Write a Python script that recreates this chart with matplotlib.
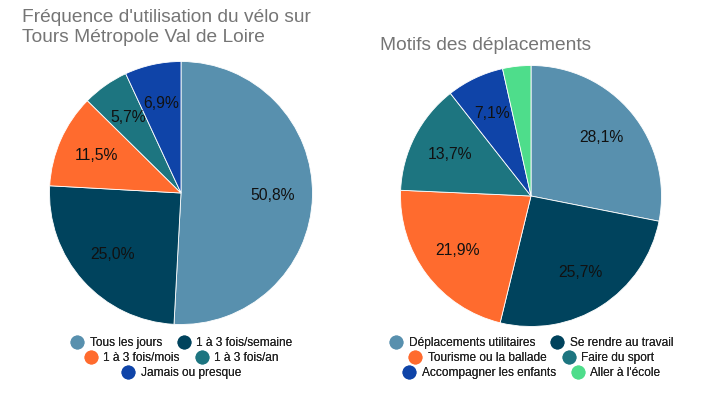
import matplotlib.pyplot as plt
from matplotlib.lines import Line2D

plt.rcParams['font.family'] = ['Liberation Sans', 'DejaVu Sans']

# left chart
freq_labels = ["Tous les jours", "1 à 3 fois/semaine", "1 à 3 fois/mois",
               "1 à 3 fois/an", "Jamais ou presque"]
freq_values = [50.8, 25.0, 11.5, 5.7, 6.9]

# right chart
motif_labels = ["Déplacements utilitaires", "Se rendre au travail",
                "Tourisme ou la ballade", "Faire du sport",
                "Accompagner les enfants", "Aller à l'école"]
motif_values = [28.1, 25.7, 21.9, 13.7, 7.1, 3.5]

colors = ["#5890ae", "#00435d", "#ff6b2e", "#1d7580", "#0f44a8", "#4edd8b"]

fig = plt.figure(figsize=(7.05, 3.96), dpi=100)

def make_fmt(values):
    total = sum(values)
    def fmt(p):
        v = p * total / 100
        if v < 5:
            return ""
        return f"{v:.1f}%".replace(".", ",")
    return fmt

def draw_pie(rect, values):
    ax = fig.add_axes(rect)
    wedges, texts, autotexts = ax.pie(
        values, colors=colors[:len(values)], startangle=90, counterclock=False,
        autopct=make_fmt(values), pctdistance=0.7,
        wedgeprops=dict(linewidth=0.6, edgecolor="white"),
        textprops=dict(fontsize=11.3, color="#111111"))
    ax.set_xlim(-1.0, 1.0)
    ax.set_ylim(-1.0, 1.0)
    ax.set_aspect("equal")
    return wedges

W, H = 705, 396

def rect_for(cx, cy, r):
    return [(cx - r) / W, 1 - (cy + r) / H, 2 * r / W, 2 * r / H]

draw_pie(rect_for(181, 193, 131.5), freq_values)
draw_pie(rect_for(531, 196, 130.5), motif_values)

fig.text(22 / W, 1 - 9 / H, "Fréquence d'utilisation du vélo sur\nTours Métropole Val de Loire",
         fontsize=13.8, color="#757575", ha="left", va="top", linespacing=1.25)
fig.text(380 / W, 1 - 37 / H, "Motifs des déplacements",
         fontsize=13.8, color="#757575", ha="left", va="top")

def legend_rows(labels, rows, cx):
    for idx, y in rows:
        handles = [Line2D([], [], marker="o", linestyle="", markersize=9,
                          markerfacecolor=colors[i], markeredgecolor=colors[i])
                   for i in idx]
        leg = fig.legend(handles, [labels[i] for i in idx], ncol=len(idx),
                         loc="center", bbox_to_anchor=(cx / W, 1 - y / H),
                         frameon=False, fontsize=8.6, handletextpad=0.4,
                         columnspacing=1.2, borderpad=0, handlelength=1.3)
        for t in leg.get_texts():
            t.set_color("#222222")
        fig.add_artist(leg)

legend_rows(freq_labels, [([0, 1], 343), ([2, 3], 358), ([4], 373)], 181)
legend_rows(motif_labels, [([0, 1], 343), ([2, 3], 358), ([4, 5], 373)], 531)

fig.savefig("out.png", dpi=100)
